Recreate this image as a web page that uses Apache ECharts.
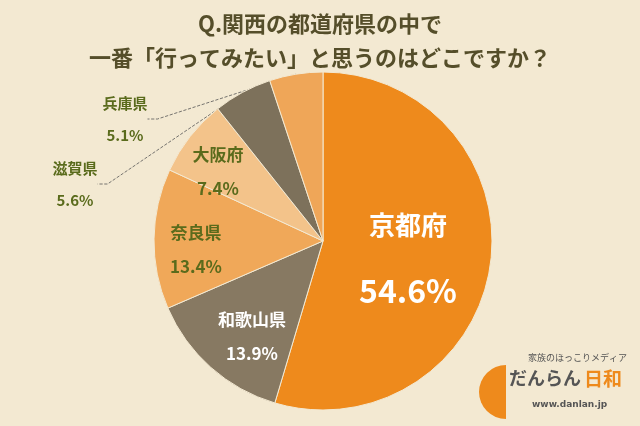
<!DOCTYPE html>
<html><head><meta charset="utf-8">
<script src="https://cdn.jsdelivr.net/npm/echarts@6/dist/echarts.min.js"></script>
<style>html,body{margin:0;padding:0;background:#f3e9d2}#c{width:640px;height:426px}</style>
</head><body><div id="c"></div>
<script>
const categories = ['京都府','和歌山県','奈良県','大阪府','滋賀県','兵庫県'];
const values = [54.6,13.9,13.4,7.4,5.6,5.1];
const colors = ['#ee8a1c','#877962','#f0a859','#f3c38a','#7d715b','#efa658'];
const labelColors = ['#ffffff','#ffffff','#5a6b1c','#5a6b1c','#5a6b1c','#5a6b1c'];
const labelPos = [[408,258],[252,337],[196,250],[218,172],[75,184],[125,119]];
const F = '"Noto Sans CJK JP", sans-serif';
const chart = echarts.init(document.getElementById('c'));
chart.setOption({
  backgroundColor:'#f3e9d2',
  title:{text:'Q.関西の都道府県の中で\n一番「行ってみたい」と思うのはどこですか？',left:'center',top:2,
    textStyle:{fontFamily:F,fontSize:22,fontWeight:'bold',color:'#554e2a',lineHeight:34}},
  graphic:[
    {type:'sector',shape:{cx:506,cy:392,r:27,startAngle:Math.PI/2,endAngle:Math.PI*1.5},style:{fill:'#ee8a1c'}},
    {type:'text',left:528,top:353,style:{text:'家族のほっこりメディア',font:'9px '+F,fill:'#555'}},
    {type:'text',left:509,top:369,style:{text:'だんらん',font:'bold 18px '+F,fill:'#555'}},
    {type:'text',left:584,top:369,style:{text:'日和',font:'bold 19px '+F,fill:'#ee8a1c'}},
    {type:'text',left:532,top:400,style:{text:'www.danlan.jp',font:'bold 9px "DejaVu Sans"',fill:'#555'}}
  ],
  series:[{type:'pie',center:[323,241],radius:169,startAngle:90,clockwise:true,
    itemStyle:{borderColor:'#f3e9d2',borderWidth:1},
    label:{show:true,position:'inside',fontFamily:F},
    labelLayout:function(p){const q=labelPos[p.dataIndex];return {x:q[0],y:q[1],align:'center',verticalAlign:'middle'};},
    data:categories.map((n,i)=>{
      const big=i===0, outer=i>=4;
      const ns=big?26:(outer?15:17), ps=big?32:(outer?15:17);
      return {name:n,value:values[i],itemStyle:{color:colors[i]},
        label:{position:outer?'outside':'inside',
          formatter:'{n|'+n+'}\n{p|'+values[i].toFixed(1)+'%}',
          rich:{n:{fontFamily:F,fontWeight:'bold',fontSize:ns,color:labelColors[i],lineHeight:big?66:(outer?32:34)},
                p:{fontFamily:F,fontWeight:'bold',fontSize:ps,color:labelColors[i],lineHeight:big?66:(outer?32:34)}}},
        labelLine:{show:outer,length:10,length2:10,lineStyle:{color:'#555',width:0.8,type:'dashed'}}};
    })
  }]
});
</script></body></html>
